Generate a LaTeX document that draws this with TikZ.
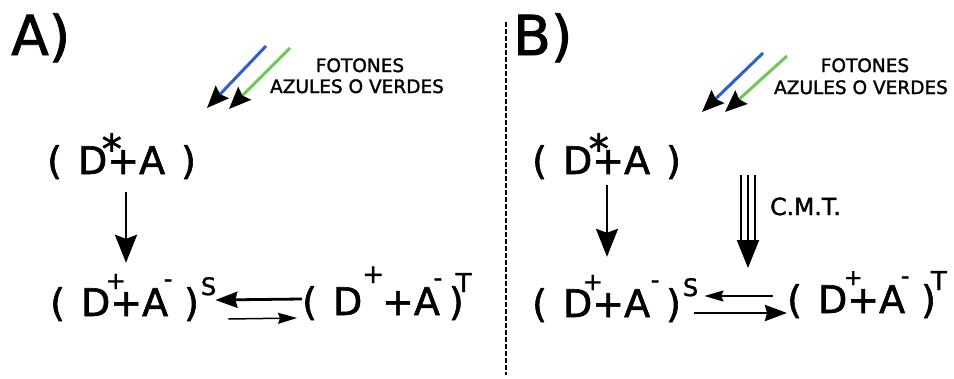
\documentclass[tikz,border=0pt]{standalone}
\usepackage{fontspec}
\setmainfont{DejaVu Sans}[FakeBold=1.6]
\usetikzlibrary{arrows.meta}
\definecolor{phblue}{RGB}{45,95,205}
\definecolor{phgreen}{RGB}{110,200,85}
% overlaid superscript: char, raise, horizontal shift, size
\newcommand{\ovr}[4]{\makebox[0pt]{\hspace{#3}\raisebox{#2}{\fontsize{#4}{#4}\selectfont #1}}}
\newcommand{\sps}[3]{\raisebox{#2}{\fontsize{#3}{#3}\selectfont #1}}
\newcommand{\gap}{\hspace{16pt}}
\begin{document}
\begin{tikzpicture}[x=1pt,y=-1pt,
  formula/.style={font=\fontsize{38}{38}\selectfont, inner sep=0pt, anchor=base west, text height=40pt, text depth=8pt},
  lbl/.style={font=\fontsize{55}{55}\selectfont, inner sep=0pt, anchor=base west},
  phtxt/.style={font=\fontsize{18.5}{18.5}\selectfont, inner sep=0pt, anchor=base},
  cmt/.style={font=\fontsize{23.5}{23.5}\selectfont, inner sep=0pt, anchor=base west},
  vert/.style={line width=2.5pt, -{Stealth[length=28pt,width=22pt,inset=4pt]}},
  thickarr/.style={line width=2.8pt, -{Stealth[length=22pt,width=16pt,inset=2pt]}},
  thinarr/.style={line width=1.5pt, -{Stealth[length=19pt,width=11pt,inset=2pt]}},
  photon/.style={line width=3pt, -{Stealth[length=22pt,width=18pt,inset=3pt,color=black]}},
  divider/.style={line width=2.2pt, dash pattern=on 5pt off 2pt}
]
\useasboundingbox (0,0) rectangle (954,378);

% ---------- panel A ----------
\node[lbl] (labA) at (11,55) {A)};
\node[phtxt] (fotA1) at (360,72) {FOTONES};
\node[phtxt] (fotA2) at (357,93) {AZULES O VERDES};
\coordinate (pbA1) at (266,46);  \coordinate (pbA2) at (207,108);
\coordinate (pgA1) at (290,48);  \coordinate (pgA2) at (229,109);
\draw[photon, phblue] (pbA1) -- (pbA2);
\draw[photon, phgreen] (pgA1) -- (pgA2);

\node[formula] (l1) at (47,174) {(\gap D\ovr{*}{11pt}{9pt}{40}+A\gap)};
\node[formula] (l2) at (50,316) {(\gap D\ovr{+}{27pt}{11pt}{24}+A\ovr{-}{29pt}{0pt}{24}\gap)\kern2pt\sps{S}{21pt}{24}};
\node[formula] (l3) at (302,315) {(\gap D\sps{+}{32pt}{26}\kern-2pt+A\ovr{-}{29pt}{-4pt}{24}\hspace{9pt})\kern-8pt\sps{T}{23pt}{26}};

\draw[vert] ([xshift=79pt,yshift=-10pt]l1.south west) -- ([xshift=76pt,yshift=13pt]l2.north west);
\draw[thickarr] (l3.west) -- ([xshift=-1pt,yshift=0pt]l2.east);
\draw[thinarr] ([xshift=12pt,yshift=-19pt]l2.east) -- ([xshift=-5pt,yshift=-19pt]l3.west);

% ---------- divider ----------
\coordinate (d1) at (506,22); \coordinate (d2) at (506,375);
\draw[divider] (d1) -- (d2);

% ---------- panel B ----------
\node[lbl] (labB) at (513,55) {B)};
\node[phtxt] (fotB1) at (865,72) {FOTONES};
\node[phtxt] (fotB2) at (861,94) {AZULES O VERDES};
\coordinate (pbB1) at (763,53);  \coordinate (pbB2) at (702,112);
\coordinate (pgB1) at (787,56);  \coordinate (pgB2) at (725,112);
\draw[photon, phblue] (pbB1) -- (pbB2);
\draw[photon, phgreen] (pgB1) -- (pgB2);

\node[formula] (r1) at (532,174) {(\gap D\ovr{*}{11pt}{13pt}{40}+A\gap)};
\node[formula] (r2) at (532,317) {(\gap D\ovr{+}{27pt}{1pt}{24}+A\ovr{-}{29pt}{10pt}{24}\gap)\kern2pt\sps{S}{21pt}{24}};
\node[formula] (r3) at (787,313) {(\gap D\ovr{+}{28pt}{12pt}{22}+A\ovr{-}{29pt}{0pt}{24}\gap)\kern-5pt\sps{T}{23pt}{26}};

\draw[vert] ([xshift=75pt,yshift=-3pt]r1.south west) -- ([xshift=75pt,yshift=20pt]r2.north west);

\coordinate (t1) at (748,175); \coordinate (t2) at (748,268);
\draw[line width=2.2pt, -{Triangle[length=28pt,width=22pt]}] (t1) -- (t2);
\draw[line width=2.2pt] ([xshift=-7pt]t1) -- ([xshift=-7pt,yshift=24pt]t2);
\draw[line width=2.2pt] ([xshift=7pt]t1) -- ([xshift=7pt,yshift=24pt]t2);
\node[cmt] (cmtB) at (770,215) {C.M.T.};

\draw[thinarr] ([xshift=-14pt,yshift=1pt]r3.west) -- ([xshift=6pt,yshift=5pt]r2.east);
\draw[thickarr] ([xshift=-4pt,yshift=-12pt]r2.east) -- ([yshift=-16pt]r3.west);
\end{tikzpicture}
\end{document}
